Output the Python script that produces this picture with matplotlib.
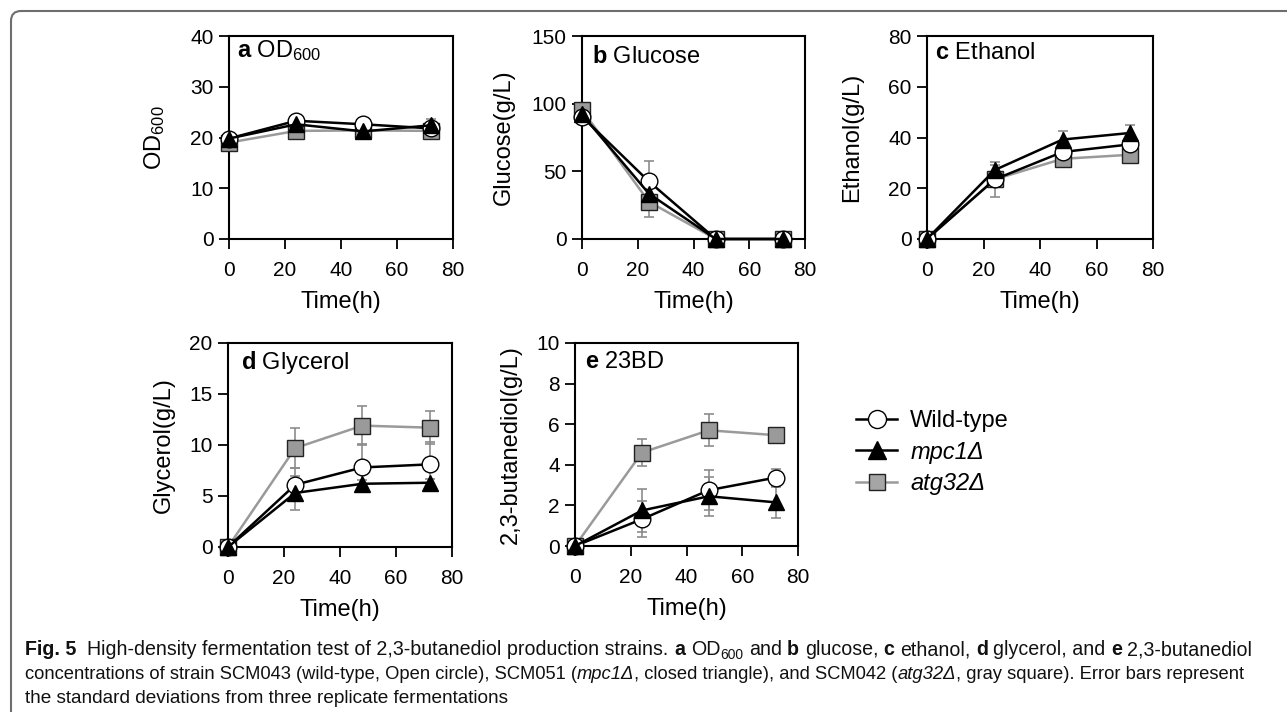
import numpy as np
import matplotlib
matplotlib.use("Agg")
import matplotlib.pyplot as plt
from matplotlib.lines import Line2D
from matplotlib.patches import FancyBboxPatch

plt.rcParams['font.family'] = ['Liberation Sans', 'DejaVu Sans']
plt.rcParams['mathtext.fontset'] = 'custom'
plt.rcParams['mathtext.rm'] = 'Liberation Sans'
plt.rcParams['mathtext.bf'] = 'Liberation Sans:bold'
plt.rcParams['mathtext.it'] = 'Liberation Sans:italic'

# time points (h)
t = [0, 24, 48, 72]

# a OD600
od_wt = [19.8, 23.3, 22.6, 21.8]
od_wt_err = [0.5, 0.6, 0.5, 0.6]
od_mpc = [19.8, 22.6, 21.2, 22.4]
od_mpc_err = [0.5, 0.8, 0.5, 1.2]
od_atg = [19.0, 21.3, 21.4, 21.3]
od_atg_err = [0.5, 0.5, 0.5, 0.5]

# b glucose
glc_wt = [90.5, 42.5, 0, 0]
glc_wt_err = [2, 15.5, 0, 0]
glc_mpc = [92, 33.5, 0, 0]
glc_mpc_err = [2, 5, 0, 0]
glc_atg = [95.5, 27.5, 0, 0]
glc_atg_err = [2, 11, 0, 0]

# c ethanol
eth_wt = [0, 23.5, 34.3, 37.3]
eth_wt_err = [0.3, 7, 2, 2]
eth_mpc = [0, 27.2, 39.2, 41.8]
eth_mpc_err = [0.3, 2, 3.5, 3]
eth_atg = [0, 23.5, 31.6, 33.2]
eth_atg_err = [0.3, 2, 1.5, 1.5]

# d glycerol
gly_wt = [0, 6.1, 7.8, 8.1]
gly_wt_err = [0, 1.6, 2.3, 2.2]
gly_mpc = [0, 5.3, 6.2, 6.3]
gly_mpc_err = [0, 1.7, 0.4, 0.4]
gly_atg = [0, 9.7, 11.9, 11.7]
gly_atg_err = [0, 2.0, 1.9, 1.6]

# e 2,3-butanediol
bd_wt = [0, 1.32, 2.75, 3.37]
bd_wt_err = [0, 0.9, 1.0, 0.4]
bd_mpc = [0, 1.75, 2.45, 2.15]
bd_mpc_err = [0, 1.05, 0.95, 0.75]
bd_atg = [0, 4.6, 5.7, 5.46]
bd_atg_err = [0, 0.65, 0.78, 0.15]

W, H = 1287, 712
fig = plt.figure(figsize=(W / 100, H / 100), dpi=100)

def px_axes(l, r, top, bot):
    return fig.add_axes([l / W, 1 - bot / H, (r - l) / W, (bot - top) / H])

panels = [
    # box px, title, ylabel, ymax, ystep, data, title offset px, ylabel centre x px
    ((229, 453, 36, 239), r"$\mathbf{a}$ OD$_{600}$", r"OD$_{600}$", 40, 10,
     (od_wt, od_wt_err, od_mpc, od_mpc_err, od_atg, od_atg_err), (8, 15), 155),
    ((582, 805, 36, 239), r"$\mathbf{b}$ Glucose", "Glucose(g/L)", 150, 50,
     (glc_wt, glc_wt_err, glc_mpc, glc_mpc_err, glc_atg, glc_atg_err), (10, 21), 503),
    ((927, 1153, 36, 239), r"$\mathbf{c}$ Ethanol", "Ethanol(g/L)", 80, 20,
     (eth_wt, eth_wt_err, eth_mpc, eth_mpc_err, eth_atg, eth_atg_err), (8, 17), 851),
    ((228, 452, 343, 547), r"$\mathbf{d}$ Glycerol", "Glycerol(g/L)", 20, 5,
     (gly_wt, gly_wt_err, gly_mpc, gly_mpc_err, gly_atg, gly_atg_err), (13, 20), 163),
    ((575, 798, 343, 546), r"$\mathbf{e}$ 23BD", "2,3-butanediol(g/L)", 10, 2,
     (bd_wt, bd_wt_err, bd_mpc, bd_mpc_err, bd_atg, bd_atg_err), (10, 19), 510),
]

ecol = '#8c8c8c'
sqcol = '#9a9a9a'
for box, title, ylab, ymax, ystep, d, toff, ylx in panels:
    ax = px_axes(*box)
    wt, wte, mp, mpe, ag, age = d
    for y, e in ((ag, age), (wt, wte), (mp, mpe)):
        ax.errorbar(t, y, yerr=e, fmt='none', ecolor=ecol, elinewidth=1.2,
                    capsize=3.5, capthick=1.2, zorder=2, clip_on=False)
    ax.plot(t, ag, '-s', color=sqcol, lw=1.8, ms=11, mfc=sqcol, mec='#222222',
            mew=1.0, zorder=3, clip_on=False)
    ax.plot(t, wt, '-o', color='black', lw=1.8, ms=12, mfc='white', mec='black',
            mew=1.0, zorder=4, clip_on=False)
    ax.plot(t, mp, '-^', color='black', lw=1.8, ms=11.5, mfc='black', mec='black',
            mew=1.0, zorder=5, clip_on=False)
    ax.set_xlim(0, 80)
    ax.set_ylim(0, ymax)
    ax.set_xticks(np.arange(0, 81, 20))
    ax.set_yticks(np.arange(0, ymax + 0.01, ystep))
    for s in ax.spines.values():
        s.set_linewidth(1.5)
    ax.tick_params(direction='out', length=7, width=1.3, labelsize=15)
    ax.tick_params(axis='x', pad=9)
    ax.tick_params(axis='y', pad=4)
    ax.set_xlabel("Time(h)", fontsize=17, labelpad=8)
    ax.set_ylabel(ylab, fontsize=17)
    # label anchor is the (rotated) bottom edge, about 12 px right of the text centre
    ax.yaxis.set_label_coords((ylx + 12 - box[0]) / (box[1] - box[0]), 0.5)
    hpx = box[3] - box[2]
    wpx = box[1] - box[0]
    ax.text(toff[0] / wpx, 1 - toff[1] / hpx, title, transform=ax.transAxes,
            fontsize=17, va='center', ha='left')

handles = [
    Line2D([], [], color='black', lw=1.8, marker='o', ms=13, mfc='white', mec='black'),
    Line2D([], [], color='black', lw=1.8, marker='^', ms=13, mfc='black', mec='black'),
    Line2D([], [], color=sqcol, lw=1.8, marker='s', ms=12, mfc='#a5a5a5', mec='#222222'),
]
labels = ["Wild-type", "mpc1\u0394", "atg32\u0394"]
leg = fig.legend(handles, labels, loc='upper left', bbox_to_anchor=(856 / W, 1 - 410 / H),
                 frameon=False, fontsize=17, handlelength=1.75, handletextpad=0.55,
                 labelspacing=0.36, borderaxespad=0, borderpad=0)
for txt in leg.get_texts()[1:]:
    txt.set_style('italic')

# rounded border of the figure frame
border = FancyBboxPatch((11, -30), W + 40, H - 11 + 30, boxstyle="round,pad=0,rounding_size=10",
                        transform=None, fill=False, edgecolor='#6e6e6e', lw=1.5)
fig.patches.append(border)

# caption, drawn as runs of differently styled text
renderer = fig.canvas.get_renderer()
cap_family = ['Liberation Sans Narrow', 'Liberation Sans', 'DejaVu Sans']

def measure(s, size, **kw):
    tt = fig.text(0, 0, s, family=cap_family, fontsize=size, **kw)
    w = tt.get_window_extent(renderer).width
    tt.remove()
    return w

def put_runs(x, y, runs, size, draw=True):
    space_w = measure("x x", size) - measure("xx", size)
    for s, kw in runs:
        kw = dict(kw)
        dy = kw.pop('dy', 0)
        rel = kw.pop('rel', 1.0)
        lead = len(s) - len(s.lstrip(' '))
        trail = len(s) - len(s.rstrip(' '))
        x += lead * space_w
        core = s.strip(' ')
        if core:
            if draw:
                tt = fig.text(x / W, 1 - (y + dy * size / 14) / H, core, family=cap_family,
                              fontsize=size * rel, va='baseline', ha='left',
                              color='#111111', **kw)
                x += tt.get_window_extent(renderer).width
            else:
                x += measure(core, size * rel, **kw)
        x += trail * space_w
    return x

B = {'weight': 'bold'}
I = {'style': 'italic'}
N = {}
line1 = [
    ("Fig. 5", B), ("  High-density fermentation test of 2,3-butanediol production strains. ", N),
    ("a", B), (" OD", N), ("600", {'rel': 0.7, 'dy': 4}), (" and ", N), ("b", B), (" glucose, ", N),
    ("c", B), (" ethanol, ", N), ("d", B), (" glycerol, and ", N), ("e", B), (" 2,3-butanediol", N),
]
line2 = [
    ("concentrations of strain SCM043 (wild-type, Open circle), SCM051 (", N), ("mpc1\u0394", I),
    (", closed triangle), and SCM042 (", N), ("atg32\u0394", I),
    (", gray square). Error bars represent", N),
]
line3 = [("the standard deviations from three replicate fermentations", N)]

x0 = 25
sizes = []
for runs, x_end in ((line1, 1250), (line2, 1255)):
    w = put_runs(x0, 0, runs, 14.0, draw=False) - x0
    sizes.append(14.0 * (x_end - x0) / w)
put_runs(x0, 655, line1, sizes[0])
put_runs(x0, 679, line2, sizes[1])
put_runs(x0, 703, line3, sum(sizes) / 2)

fig.savefig("out.png", dpi=100)
